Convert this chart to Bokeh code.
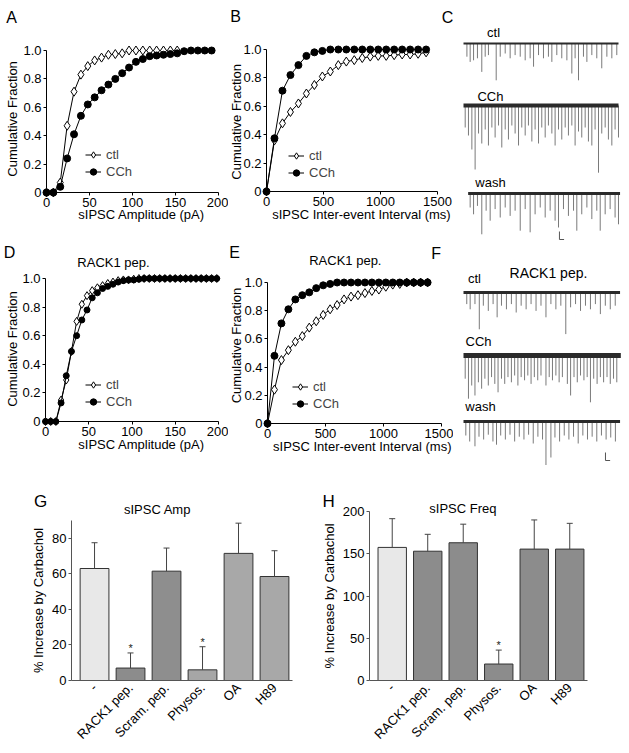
import math
from bokeh.plotting import figure
from bokeh.layouts import column, row
from bokeh.models import (Range1d, FixedTicker, CustomJSTickFormatter, Legend, LegendItem,
                          Whisker, TeeHead, ColumnDataSource)
from bokeh.embed import file_html
from bokeh.resources import INLINE
from bokeh.core.properties import value

FONT = "Liberation Sans"

# ---------------- data ----------------
# A: amplitude CDF
a_ctl_x = [0, 8, 16, 24, 32, 40, 48, 56, 64, 72, 80, 88, 96, 104, 112, 120, 128, 136, 144, 152]
a_ctl_y = [0, 0, 0.07, 0.47, 0.71, 0.83, 0.89, 0.93, 0.95, 0.97, 0.975, 0.98, 1.0, 1.0, 1.0, 1.0, 1.0, 1.0, 1.0, 1.0]
a_cch_x = [0, 8, 16, 24, 32, 40, 48, 56, 64, 72, 80, 88, 96, 104, 112, 120, 128, 136, 144, 152, 160, 168, 176, 184, 192]
a_cch_y = [0, 0, 0.04, 0.24, 0.41, 0.54, 0.62, 0.67, 0.72, 0.76, 0.80, 0.84, 0.88, 0.92, 0.94, 0.96, 0.965, 0.97,
           0.975, 0.98, 0.995, 1.0, 1.0, 1.0, 1.0]
# B: inter-event interval CDF
b_x = [0, 70, 140, 210, 280, 350, 420, 490, 560, 630, 700, 770, 840, 910, 980, 1050, 1120, 1190, 1260, 1330, 1400]
b_ctl_y = [0, 0.36, 0.48, 0.56, 0.62, 0.69, 0.75, 0.81, 0.845, 0.89, 0.915, 0.925, 0.94, 0.95, 0.955, 0.955,
           0.96, 0.965, 0.965, 0.97, 0.98]
b_cch_y = [0, 0.375, 0.71, 0.82, 0.89, 0.955, 0.98, 0.99, 1.0, 1.0, 1.0, 1.0, 1.0, 1.0, 1.0, 1.0, 1.0, 1.0, 1.0, 1.0, 1.0]
# D: amplitude CDF, RACK1 pep.
d_x = [0, 6, 12, 18, 24, 30, 36, 42, 48, 54, 60, 66, 72, 78, 84, 90, 96, 102, 108, 114, 120, 126, 132, 138,
       144, 150, 156, 162, 168, 174, 180, 186, 192, 198]
d_ctl_y = [0, 0, 0, 0.15, 0.29, 0.49, 0.70, 0.82, 0.88, 0.915, 0.935, 0.95, 0.965, 0.975, 0.985, 0.99, 0.99, 0.995,
           1, 1, 1, 1, 1, 1, 1, 1, 1, 1, 1, 1, 1, 1, 1, 1]
d_cch_y = [0, 0, 0, 0.13, 0.32, 0.49, 0.60, 0.71, 0.78, 0.865, 0.90, 0.93, 0.945, 0.96, 0.975, 0.985, 0.99, 0.99,
           0.995, 1, 1, 1, 1, 1, 1, 1, 1, 1, 1, 1, 1, 1, 1, 1]
# E: interval CDF, RACK1 pep.
e_x = [0, 60, 120, 180, 240, 300, 360, 420, 480, 540, 600, 660, 720, 780, 840, 900, 960, 1020, 1080, 1140,
       1200, 1260, 1320, 1380]
e_ctl_y = [0, 0.24, 0.45, 0.52, 0.58, 0.62, 0.68, 0.725, 0.77, 0.81, 0.84, 0.88, 0.90, 0.91, 0.925, 0.94, 0.95,
           0.97, 0.985, 0.99, 1, 1, 1, 1]
e_cch_y = [0, 0.48, 0.71, 0.81, 0.88, 0.91, 0.93, 0.96, 0.98, 0.99, 1, 1, 1, 1, 1, 1, 1, 1, 1, 1, 1, 1, 1, 1]

# C / F: sIPSC event times (s) and amplitudes (pA)
c_ctl_t = [0.22, 0.43, 0.65, 0.90, 1.18, 1.40, 1.61, 2.11, 2.37, 2.69, 3.01, 3.33, 3.66, 3.98, 4.30, 4.52, 4.84,
           5.16, 5.48, 5.70, 6.02, 6.34, 6.67, 6.99, 7.20, 7.42, 7.74, 7.96, 8.28, 8.60, 8.92, 9.25, 9.57, 9.89]
c_ctl_a = [33, 46, 42, 37, 71, 33, 29, 92, 33, 25, 37, 29, 33, 42, 37, 58, 29, 37, 33, 46, 29, 37, 42, 75, 37, 92,
           33, 46, 29, 37, 62, 33, 37, 29]
c_cch_t = [0.11, 0.32, 0.54, 0.75, 0.97, 1.18, 1.40, 1.61, 1.83, 2.04, 2.26, 2.47, 2.69, 2.90, 3.12, 3.33, 3.55,
           3.76, 3.98, 4.19, 4.41, 4.62, 4.84, 5.05, 5.27, 5.48, 5.70, 5.91, 6.13, 6.34, 6.56, 6.77, 6.99, 7.20,
           7.42, 7.63, 7.85, 8.06, 8.28, 8.49, 8.71, 8.92, 9.14, 9.35, 9.57, 9.78, 10.0]
c_cch_a = [55, 75, 110, 160, 70, 95, 60, 100, 55, 80, 50, 105, 60, 85, 50, 70, 100, 55, 75, 50, 90, 60, 95, 55, 80,
           50, 70, 100, 60, 85, 55, 75, 50, 100, 65, 80, 55, 90, 100, 60, 168, 70, 55, 85, 100, 60, 80]
c_wash_t = [0.43, 0.65, 0.90, 1.18, 1.46, 1.72, 2.04, 2.37, 2.69, 3.01, 3.33, 3.66, 3.98, 4.30, 4.62, 4.95, 5.27,
            5.59, 5.91, 6.13, 6.45, 6.77, 7.10, 7.31, 7.63, 7.96, 8.28, 8.60, 8.82, 9.14, 9.46, 9.78, 10.0]
c_wash_a = [35, 52, 31, 102, 43, 68, 39, 60, 35, 56, 43, 93, 39, 97, 52, 35, 60, 43, 68, 85, 39, 56, 43, 93, 52, 35,
            64, 43, 93, 52, 39, 60, 77]
f_ctl_t = [0.21, 0.43, 0.74, 1.02, 1.28, 1.60, 1.91, 2.17, 2.45, 2.77, 3.09, 3.40, 3.72, 4.04, 4.36, 4.68, 5.00,
           5.32, 5.64, 5.96, 6.28, 6.60, 6.91, 7.23, 7.55, 7.87, 8.19, 8.51, 8.83, 9.15, 9.47, 9.79]
f_ctl_a = [29, 42, 29, 92, 33, 46, 29, 62, 33, 42, 29, 50, 33, 42, 29, 46, 33, 62, 29, 42, 33, 104, 37, 29, 46, 33,
           42, 29, 54, 33, 42, 33]
f_cch_t = [0.11, 0.32, 0.53, 0.74, 0.96, 1.17, 1.38, 1.60, 1.81, 2.02, 2.23, 2.45, 2.66, 2.87, 3.09, 3.30, 3.51,
           3.72, 3.94, 4.15, 4.36, 4.57, 4.79, 5.00, 5.32, 5.53, 5.74, 5.96, 6.17, 6.38, 6.70, 6.91, 7.13, 7.34,
           7.55, 7.77, 7.98, 8.19, 8.40, 8.62, 8.83, 9.04, 9.26, 9.47, 9.68, 9.89]
f_cch_a = [58, 108, 75, 100, 67, 83, 58, 75, 54, 71, 92, 58, 71, 54, 67, 50, 75, 54, 62, 50, 71, 54, 62, 50, 75, 54,
           62, 50, 67, 54, 71, 100, 54, 67, 50, 62, 54, 117, 58, 71, 54, 67, 54, 71, 58, 67]
f_wash_t = [0.15, 0.40, 0.74, 1.00, 1.30, 1.60, 1.90, 2.13, 2.40, 2.70, 3.00, 3.30, 3.60, 3.90, 4.20, 4.50, 4.80,
            5.10, 5.32, 5.64, 5.90, 6.20, 6.50, 6.80, 7.10, 7.40, 7.70, 8.00, 8.30, 8.60, 8.90, 9.20, 9.50, 9.80]
f_wash_a = [35, 50, 62, 38, 45, 33, 50, 58, 35, 45, 33, 50, 38, 45, 33, 55, 38, 45, 127, 90, 40, 50, 35, 45, 38, 55,
            35, 45, 38, 50, 35, 45, 40, 50]

# G / H: bar charts
bar_labels = ["-", "RACK1 pep.", "Scram. pep.", "Physos.", "OA", "H89"]
g_mean = [63, 7, 61.5, 6, 71.5, 58.5]
g_sem = [14.5, 8.5, 13, 13, 17, 14.5]
g_sig = ["", "*", "", "*", "", ""]
g_colors = ["#e8e8e8", "#8c8c8c", "#8e8e8e", "#a6a6a6", "#a8a8a8", "#a8a8a8"]
h_mean = [157.5, 153, 163, 19.5, 155.5, 155.5]
h_sem = [34, 20, 22, 16.5, 34.5, 30.5]
h_sig = ["", "", "", "*", "", ""]
h_colors = ["#e8e8e8", "#8c8c8c", "#8c8c8c", "#8c8c8c", "#8c8c8c", "#8c8c8c"]


# ---------------- helpers ----------------
def new_fig(w, h, xr, yr, borders, axes=True):
    bl, br, bt, bb = borders
    kw = {}
    if not axes:
        kw = dict(x_axis_location=None, y_axis_location=None)
    p = figure(width=w, height=h, x_range=xr, y_range=yr,
               min_border_left=bl, min_border_right=br, min_border_top=bt, min_border_bottom=bb,
               toolbar_location=None, output_backend="svg", **kw)
    p.frame_align = False
    p.grid.visible = False
    p.outline_line_color = None
    for ax in p.axis:
        ax.axis_line_color = "black"
        ax.axis_line_width = 1
        ax.major_tick_line_color = "black"
        ax.major_tick_out = 3
        ax.major_tick_in = 0
        ax.minor_tick_line_color = None
        ax.major_label_text_font = FONT
        ax.major_label_text_font_size = "13px"
        ax.major_label_text_color = "black"
        ax.axis_label_text_font = FONT
        ax.axis_label_text_font_size = "13px"
        ax.axis_label_text_font_style = "normal"
        ax.axis_label_text_color = "black"
        ax.major_label_standoff = 2
        ax.axis_label_standoff = 1
    return p


def add_text(p, x, y, text, size="13px", align="center", angle=0.0):
    p.text(x=[x], y=[y], text=[text], text_font=value(FONT), text_font_size=size, angle=angle,
           text_align=align, text_baseline="middle", text_color="black", level="overlay")


def cdf_panel(w, h, borders, xmax, xticks, xlabel, xlab_pos, ylab_pos, cx, cy, hx, hy, leg_loc, csize, dsize):
    p = new_fig(w, h, Range1d(0, xmax), Range1d(0, 1), borders)
    p.xaxis.ticker = FixedTicker(ticks=xticks)
    p.yaxis.ticker = FixedTicker(ticks=[0, 0.2, 0.4, 0.6, 0.8, 1.0])
    p.yaxis.formatter = CustomJSTickFormatter(code="return tick == 0 ? '0' : tick.toFixed(1);")
    # axis titles drawn as text so they sit where the original places them
    add_text(p, xlab_pos[0], xlab_pos[1], xlabel)
    add_text(p, ylab_pos[0], ylab_pos[1], "Cumulative Fraction", angle=math.pi / 2)
    l1 = p.line(cx, cy, line_color="black", line_width=1, level="overlay")
    s1 = p.scatter(cx, cy, marker="diamond", size=dsize, fill_color="white", line_color="black",
                   line_width=1, level="overlay")
    l2 = p.line(hx, hy, line_color="black", line_width=1, level="overlay")
    s2 = p.scatter(hx, hy, marker="circle", size=csize, fill_color="black", line_color="black",
                   level="overlay")
    leg = Legend(items=[LegendItem(label="ctl", renderers=[l1, s1]),
                        LegendItem(label="CCh", renderers=[l2, s2])],
                 location=leg_loc, border_line_color=None, background_fill_alpha=0,
                 padding=0, margin=0, spacing=0, glyph_width=16, glyph_height=17, label_height=17,
                 label_standoff=5, label_text_font=FONT, label_text_font_size="13px")
    p.add_layout(leg)
    return p


def trace_panel(h, y_bottom):
    return new_fig(176, h, Range1d(-0.645, 10.71), Range1d(y_bottom, 0), (0, 0, 0, 0), axes=False)


def draw_trace(p, t, a, base, t0, t1, band):
    p.segment(x0=t, y0=[base] * len(t), x1=t, y1=[base - v for v in a], line_color="#7a7a7a", line_width=1)
    p.line([t0, t1], [base, base], line_color="#2a2a2a", line_width=band)


def bar_panel(w, h, borders, ymax, yticks, means, sems, colors, sig):
    xs = list(range(len(bar_labels)))
    upper = [m + s for m, s in zip(means, sems)]
    src = ColumnDataSource(dict(x=xs, mean=means, upper=upper, color=colors, sig=sig))
    p = new_fig(w, h, Range1d(-0.64, 5.5), Range1d(0, ymax), borders)
    p.xaxis.ticker = FixedTicker(ticks=xs)
    p.xaxis.major_label_overrides = {i: lab for i, lab in enumerate(bar_labels)}
    p.xaxis.major_label_orientation = math.pi / 4
    p.xaxis.major_tick_line_color = None
    p.xaxis.axis_line_color = "#555555"
    p.yaxis.axis_line_color = "#555555"
    p.yaxis.major_tick_line_color = "#555555"
    p.yaxis.ticker = FixedTicker(ticks=yticks)
    p.yaxis.axis_label = "% Increase by Carbachol"
    p.yaxis.axis_label_standoff = 3
    p.vbar(x="x", top="mean", width=0.8, source=src, fill_color="color", line_color="#333333", line_width=1)
    p.add_layout(Whisker(source=src, base="x", lower="mean", upper="upper", dimension="height",
                         line_color="#444444", line_width=1,
                         upper_head=TeeHead(size=6, line_color="#444444", line_width=1),
                         lower_head=None, level="overlay"))
    p.text(x="x", y="upper", text="sig", source=src, text_align="center", text_baseline="bottom",
           text_font=value(FONT), text_font_size="11px", y_offset=1, text_color="#222222", level="overlay")
    return p


# ---------------- row 1 ----------------
pA = cdf_panel(228, 242, (46, 10, 50, 50), 200, [0, 50, 100, 150, 200], "sIPSC Amplitude (pA)",
               (110.5, -0.155), (-39, 0.518),
               a_ctl_x, a_ctl_y, a_cch_x, a_cch_y, (39, 12), 7, 9)
add_text(pA, -40.7, 1.232, "A", "16px")

pB = cdf_panel(225, 242, (38, 16, 49, 51), 1500, [0, 500, 1000, 1500], "sIPSC Inter-event Interval (ms)",
               (833, -0.162), (-262, 0.49),
               b_x, b_ctl_y, b_x, b_cch_y, (22, 10), 7, 9)
add_text(pB, -272, 1.232, "B", "16px")
add_text(pB, 1588, 1.225, "C", "16px")

pC = trace_panel(242, -605)
draw_trace(pC, c_ctl_t, c_ctl_a, -107.5, 0, 10, 2)
draw_trace(pC, c_cch_t, c_cch_a, -262.5, 0, 10, 4)
draw_trace(pC, c_wash_t, c_wash_a, -482.5, 0.3, 10.1, 3)
pC.line([6.19, 6.19, 6.49], [-577.5, -597.5, -597.5], line_color="#555555", line_width=1)
add_text(pC, 1.94, -80, "ctl")
add_text(pC, 1.74, -240, "CCh")
add_text(pC, 1.74, -455, "wash")

# ---------------- row 2 ----------------
pD = cdf_panel(228, 223, (45, 10, 36, 44), 200, [0, 50, 100, 150, 200], "sIPSC Amplitude (pA)",
               (111, -0.161), (-38, 0.507),
               d_x, d_ctl_y, d_x, d_cch_y, (40, 11), 6, 8)
add_text(pD, -41.6, 1.18, "D", "16px")
add_text(pD, 78.6, 1.11, "RACK1 pep.")

pE = cdf_panel(225, 223, (39, 12, 40, 42), 1500, [0, 500, 1000, 1500], "sIPSC Inter-event Interval (ms)",
               (817, -0.163), (-266, 0.553),
               e_x, e_ctl_y, e_x, e_cch_y, (25, 11), 7, 9)
add_text(pE, -284, 1.213, "E", "16px")
add_text(pE, 671, 1.156, "RACK1 pep.")
add_text(pE, 1453, 1.206, "F", "16px")

pF = trace_panel(223, -557.5)
draw_trace(pF, f_ctl_t, f_ctl_a, -125, 0, 10.1, 3)
draw_trace(pF, f_cch_t, f_cch_a, -282.5, 0, 10.15, 5)
draw_trace(pF, f_wash_t, f_wash_a, -447.5, 0, 10.1, 3)
pF.line([9.16, 9.16, 9.46], [-525, -545, -545], line_color="#555555", line_width=1)
add_text(pF, 0.71, -90, "ctl")
add_text(pF, 5.48, -75, "RACK1 pep.", "14px")
add_text(pF, 0.97, -247.5, "CCh")
add_text(pF, 1.10, -410, "wash")

# ---------------- row 3 ----------------
pG = bar_panel(318, 285, (71, 26, 55, 59), 90, [0, 20, 40, 60, 80], g_mean, g_sem, g_colors, g_sig)
add_text(pG, 1.75, 96, "sIPSC Amp")
add_text(pG, -1.5, 100.5, "G", "17px")

pH = bar_panel(311, 285, (48, 42, 46, 59), 200, [0, 50, 100, 150, 200], h_mean, h_sem, h_colors, h_sig)
add_text(pH, 1.99, 203, "sIPSC Freq")
add_text(pH, -1.79, 212, "H", "17px")

layout = column(row(pA, pB, pC), row(pD, pE, pF), row(pG, pH))
open("out.html", "w").write(file_html(layout, INLINE))
